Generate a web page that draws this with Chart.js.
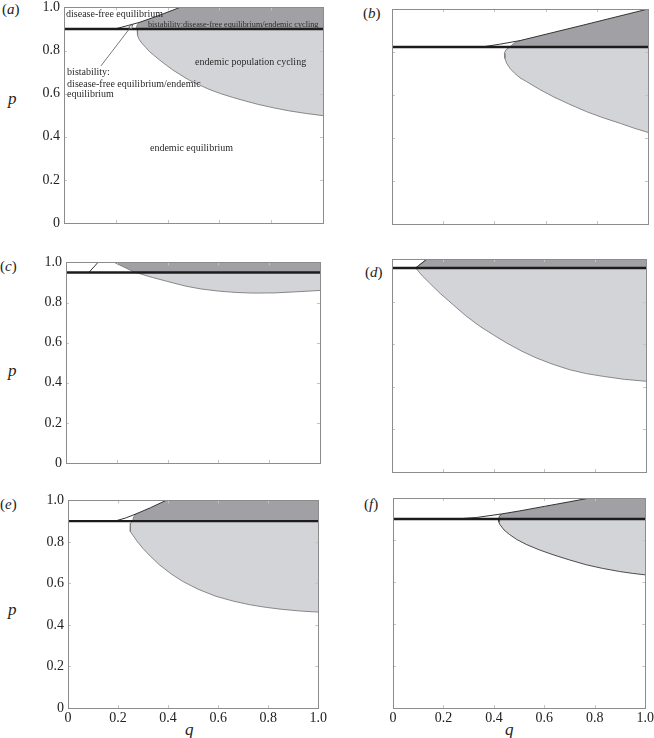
<!DOCTYPE html>
<html>
<head>
<meta charset="utf-8">
<script src="https://cdn.jsdelivr.net/npm/chart.js@4.4.0/dist/chart.umd.min.js"></script>
<style>
  body { margin:0; width:654px; height:738px; position:relative; overflow:hidden; background:#fff; font-family:"Liberation Serif", "Times New Roman", Times, serif; color:#222; }
  canvas { position:absolute; }
  .tag { position:absolute; font-size:15px; line-height:1; white-space:nowrap; }
  .ax { position:absolute; font-size:17px; font-style:italic; line-height:1; }
</style>
</head>
<body>
<div class="tag" style="left:2px;top:2px">(<i>a</i>)</div>
<div class="tag" style="left:363px;top:6px">(<i>b</i>)</div>
<div class="tag" style="left:0px;top:259px">(<i>c</i>)</div>
<div class="tag" style="left:365px;top:265px">(<i>d</i>)</div>
<div class="tag" style="left:0px;top:497px">(<i>e</i>)</div>
<div class="tag" style="left:364px;top:497px">(<i>f</i>)</div>
<div class="ax" style="left:8px;top:90px">p</div>
<div class="ax" style="left:8px;top:362px">p</div>
<div class="ax" style="left:8px;top:601px">p</div>
<div class="ax" style="left:185px;top:721px">q</div>
<div class="ax" style="left:505px;top:721px">q</div>

<canvas id="chartA"></canvas>
<canvas id="chartB"></canvas>
<canvas id="chartC"></canvas>
<canvas id="chartD"></canvas>
<canvas id="chartE"></canvas>
<canvas id="chartF"></canvas>

<script>
const SERIF = '"Liberation Serif", "Times New Roman", Times, serif';

const qTicks = ['0', '0.2', '0.4', '0.6', '0.8', '1.0'];
const pTicks = ['0', '0.2', '0.4', '0.6', '0.8', '1.0'];

// p of the thick horizontal line in each panel
const lineP = { a: 0.9, b: 0.823, c: 0.95, d: 0.958, e: 0.9, f: 0.9 };

// thin boundary of the disease-free region
const aUpperQ = [0.197, 0.25, 0.29, 0.35, 0.448];
const aUpperP = [0.9, 0.917, 0.93, 0.955, 1.0];
const bUpperQ = [0.35, 0.42, 0.5, 0.75, 1.0];
const bUpperP = [0.823, 0.836, 0.853, 0.926, 1.0];
const cUpperQ = [0.09, 0.126];
const cUpperP = [0.95, 1.0];
const dUpperQ = [0.093, 0.138];
const dUpperP = [0.958, 1.0];
const eUpperQ = [0.186, 0.23, 0.272, 0.33, 0.392];
const eUpperP = [0.9, 0.915, 0.935, 0.965, 1.0];
const fUpperQ = [0.25, 0.33, 0.43, 0.5, 0.6, 0.7, 0.78];
const fUpperP = [0.9, 0.907, 0.924, 0.938, 0.96, 0.982, 1.0];

// edge of the cycling region above the thick line (dark grey)
const aDarkQ = [0.282, 0.28, 0.284, 0.29];
const aDarkP = [0.9, 0.91, 0.922, 0.93];
const bDarkQ = [0.46, 0.475, 0.5];
const bDarkP = [0.823, 0.84, 0.853];
const cDarkQ = [0.272, 0.19];
const cDarkP = [0.95, 1.0];
const dDarkQ = [0.093, 0.138];
const dDarkP = [0.958, 1.0];
const eDarkQ = [0.258, 0.262, 0.272];
const eDarkP = [0.9, 0.92, 0.935];
const fDarkQ = [0.418, 0.422, 0.43];
const fDarkP = [0.9, 0.913, 0.924];

// edge of the cycling region below the thick line (light grey)
const aLightQ = [0.282, 0.284, 0.29, 0.30, 0.315, 0.33, 0.35, 0.37, 0.395, 0.42, 0.45, 0.48, 0.52, 0.56, 0.605, 0.65, 0.70, 0.75, 0.81, 0.87, 0.935, 1.0];
const aLightP = [0.9, 0.87, 0.852, 0.835, 0.815, 0.795, 0.775, 0.755, 0.732, 0.71, 0.687, 0.665, 0.642, 0.62, 0.6, 0.583, 0.566, 0.55, 0.534, 0.52, 0.508, 0.498];
const bLightQ = [0.46, 0.445, 0.439, 0.441, 0.448, 0.462, 0.48, 0.50, 0.526, 0.575, 0.63, 0.695, 0.761, 0.825, 0.892, 0.945, 1.0];
const bLightP = [0.823, 0.81, 0.794, 0.77, 0.747, 0.722, 0.70, 0.68, 0.662, 0.627, 0.592, 0.556, 0.522, 0.494, 0.468, 0.446, 0.426];
const cLightQ = [0.272, 0.29, 0.34, 0.40, 0.47, 0.53, 0.6, 0.67, 0.74, 0.82, 0.9, 1.0];
const cLightP = [0.95, 0.944, 0.925, 0.905, 0.882, 0.868, 0.857, 0.85, 0.847, 0.848, 0.853, 0.86];
const dLightQ = [0.093, 0.12, 0.148, 0.19, 0.24, 0.29, 0.346, 0.40, 0.451, 0.51, 0.569, 0.635, 0.70, 0.765, 0.832, 0.915, 1.0];
const dLightP = [0.958, 0.92, 0.887, 0.838, 0.786, 0.734, 0.684, 0.643, 0.606, 0.568, 0.535, 0.505, 0.48, 0.462, 0.449, 0.435, 0.426];
const eLightQ = [0.258, 0.25, 0.248, 0.25, 0.259, 0.275, 0.299, 0.33, 0.365, 0.41, 0.458, 0.52, 0.591, 0.66, 0.724, 0.79, 0.857, 0.93, 1.0];
const eLightP = [0.9, 0.89, 0.87, 0.85, 0.833, 0.805, 0.769, 0.73, 0.69, 0.648, 0.61, 0.572, 0.538, 0.515, 0.498, 0.485, 0.475, 0.467, 0.462];
const fLightQ = [0.418, 0.42, 0.423, 0.44, 0.462, 0.49, 0.528, 0.58, 0.634, 0.70, 0.766, 0.83, 0.898, 0.95, 1.0];
const fLightP = [0.9, 0.885, 0.875, 0.848, 0.826, 0.803, 0.779, 0.753, 0.73, 0.705, 0.682, 0.665, 0.65, 0.641, 0.634];

const series = {
  a: [aUpperQ, aUpperP, aDarkQ, aDarkP, aLightQ, aLightP],
  b: [bUpperQ, bUpperP, bDarkQ, bDarkP, bLightQ, bLightP],
  c: [cUpperQ, cUpperP, cDarkQ, cDarkP, cLightQ, cLightP],
  d: [dUpperQ, dUpperP, dDarkQ, dDarkP, dLightQ, dLightP],
  e: [eUpperQ, eUpperP, eDarkQ, eDarkP, eLightQ, eLightP],
  f: [fUpperQ, fUpperP, fDarkQ, fDarkP, fLightQ, fLightP]
};

// plot area of each panel in page pixels: left, top, right, bottom
const boxes = {
  a: [64, 5, 323, 223],
  b: [392, 9, 648, 224],
  c: [66, 260, 320, 463],
  d: [392, 259, 646, 472],
  e: [68, 498, 319, 708],
  f: [393, 498, 646, 708]
};

const DARK = '#a1a1a5';
const LIGHT = '#d3d4d7';

const pts = (qs, ps) => qs.map((q, i) => ({ x: q, y: ps[i] }));

// inward ticks on every side + grey frame
const frame = {
  id: 'frame',
  afterDatasetsDraw(chart) {
    const { ctx, chartArea: a, scales: { x, y } } = chart;
    ctx.save();
    ctx.strokeStyle = '#c4c4c4';
    ctx.lineWidth = 1;
    ctx.beginPath();
    x.ticks.forEach(t => {
      const px = Math.round(x.getPixelForValue(t.value)) + 0.5;
      ctx.moveTo(px, a.bottom); ctx.lineTo(px, a.bottom - 3);
      ctx.moveTo(px, a.top); ctx.lineTo(px, a.top + 3);
    });
    y.ticks.forEach(t => {
      const py = Math.round(y.getPixelForValue(t.value)) + 0.5;
      ctx.moveTo(a.left, py); ctx.lineTo(a.left + 3, py);
      ctx.moveTo(a.right, py); ctx.lineTo(a.right - 3, py);
    });
    ctx.stroke();
    ctx.strokeStyle = '#8c8c8c';
    ctx.strokeRect(Math.round(a.left) + 0.5, Math.round(a.top) + 0.5, Math.round(a.width), Math.round(a.height));
    ctx.restore();
  }
};

// text labels of panel (a), placed in data coordinates
const notes = {
  id: 'notes',
  afterDraw(chart, args, opts) {
    if (!opts.show) return;
    const { ctx, scales: { x, y } } = chart;
    ctx.save();
    ctx.fillStyle = '#2a2a2a';
    ctx.textBaseline = 'alphabetic';
    const put = (txt, q, p, size) => {
      ctx.font = size + 'px ' + SERIF;
      ctx.fillText(txt, x.getPixelForValue(q), y.getPixelForValue(p));
    };
    put('disease-free equilibrium', 0.008, 0.954, 10);
    put('bistability:disease-free equilibrium/endemic cycling', 0.324, 0.909, 8.2);
    put('endemic population cycling', 0.506, 0.734, 10);
    put('bistability:', 0.012, 0.688, 10);
    put('disease-free equilibrium/endemic', 0.012, 0.633, 10);
    put('equilibrium', 0.012, 0.583, 10);
    put('endemic equilibrium', 0.332, 0.335, 10);
    // pointer to the thin bistability sliver
    const x0 = x.getPixelForValue(0.143), y0 = y.getPixelForValue(0.729);
    const x1 = x.getPixelForValue(0.266), y1 = y.getPixelForValue(0.922);
    ctx.strokeStyle = '#555';
    ctx.lineWidth = 0.8;
    ctx.beginPath(); ctx.moveTo(x0, y0); ctx.lineTo(x1, y1); ctx.stroke();
    const ang = Math.atan2(y1 - y0, x1 - x0);
    ctx.beginPath();
    ctx.moveTo(x1, y1);
    ctx.lineTo(x1 - 5 * Math.cos(ang - 0.35), y1 - 5 * Math.sin(ang - 0.35));
    ctx.lineTo(x1 - 5 * Math.cos(ang + 0.35), y1 - 5 * Math.sin(ang + 0.35));
    ctx.closePath();
    ctx.fillStyle = '#fff';
    ctx.fill();
    ctx.stroke();
    ctx.restore();
  }
};

function makePanel(key, canvasId, showP, showQ) {
  const [uq, up, dq, dp, lq, lp] = series[key];
  const thr = lineP[key];
  const upper = pts(uq, up);
  const darkEdge = pts(dq, dp);
  const lightEdge = pts(lq, lp);

  const join = darkEdge[darkEdge.length - 1];
  const darkPoly = darkEdge.concat(upper.filter(o => o.x > join.x + 1e-6));
  if (darkPoly[darkPoly.length - 1].x < 1) darkPoly.push({ x: 1, y: 1 });
  darkPoly.push({ x: 1, y: thr });

  const lightPoly = lightEdge.concat([{ x: 1, y: thr }]);
  const edge = darkEdge.slice().reverse().concat(lightEdge.slice(1));

  const [L, T, R, B] = boxes[key];
  const cv = document.getElementById(canvasId);
  const padL = 60, padT = 10, padR = 10, padB = 30;
  cv.width = R - L + padL + padR;
  cv.height = B - T + padT + padB;
  cv.style.left = (L - padL) + 'px';
  cv.style.top = (T - padT) + 'px';

  const edgeColor = key === 'f' ? '#3a3a3a' : '#7d7d7d';

  return new Chart(cv, {
    type: 'line',
    data: {
      datasets: [
        { data: [{ x: 0, y: thr }, { x: 1, y: thr }], borderColor: '#1c1c1c', borderWidth: 2.4, order: 1 },
        { data: upper, borderColor: '#333', borderWidth: 1, order: 2 },
        { data: edge, borderColor: edgeColor, borderWidth: 0.9, order: 2 },
        { data: darkPoly, borderWidth: 0, borderColor: 'rgba(0,0,0,0)', backgroundColor: DARK, fill: 'shape', order: 3 },
        { data: lightPoly, borderWidth: 0, borderColor: 'rgba(0,0,0,0)', backgroundColor: LIGHT, fill: 'shape', order: 3 }
      ]
    },
    options: {
      responsive: false,
      animation: false,
      events: [],
      layout: { padding: { top: padT, right: padR, left: 0, bottom: 0 } },
      elements: { point: { radius: 0 }, line: { tension: 0 } },
      plugins: {
        legend: { display: false },
        tooltip: { enabled: false },
        notes: { show: key === 'a' }
      },
      scales: {
        x: {
          type: 'linear', min: 0, max: 1,
          border: { display: false },
          grid: { display: false, drawTicks: false },
          afterFit: s => { s.height = padB; },
          ticks: {
            display: showQ, stepSize: 0.2, padding: 2,
            color: '#222', font: { family: SERIF, size: 14 },
            maxRotation: 0,
            callback: (v, i) => qTicks[i]
          }
        },
        y: {
          type: 'linear', min: 0, max: 1,
          border: { display: false },
          grid: { display: false, drawTicks: false },
          afterFit: s => { s.width = padL; },
          ticks: {
            display: showP, stepSize: 0.2, padding: 4,
            color: '#222', font: { family: SERIF, size: 14 },
            callback: (v, i) => pTicks[i]
          }
        }
      }
    },
    plugins: [frame, notes]
  });
}

makePanel('a', 'chartA', true, false);
makePanel('b', 'chartB', false, false);
makePanel('c', 'chartC', true, false);
makePanel('d', 'chartD', false, false);
makePanel('e', 'chartE', true, true);
makePanel('f', 'chartF', false, true);
</script>
</body>
</html>
